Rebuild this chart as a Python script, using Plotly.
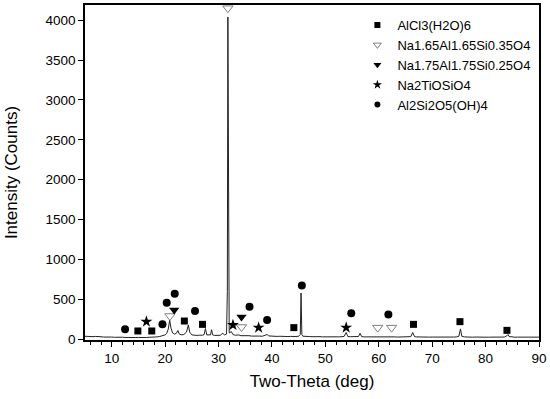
import plotly.graph_objects as go

# --- XRD pattern ---
two_theta = [5, 5.5, 6, 6.5, 7, 7.5, 8, 8.5, 9, 9.5, 10, 10.5, 11, 11.5, 12, 12.5, 13, 13.5, 14, 14.5,
             15, 15.5, 16, 16.5, 17, 17.5, 18, 18.5, 19, 19.5, 20, 20.3, 20.6, 20.85, 21.1, 21.4, 21.8,
             22.1, 22.4, 22.6, 23, 23.5, 24, 24.35, 24.6, 25, 25.5, 26, 26.5, 27, 27.3, 27.55, 27.8,
             28.2, 28.5, 28.7, 28.9, 29.3, 29.8, 30.3, 30.8, 31.1, 31.5, 31.65, 31.75, 31.85, 32.0,
             32.4, 32.7, 33.2, 33.7, 34.2, 34.7, 35.2, 35.7, 36.2, 36.7, 37.2, 37.7, 38.2, 38.7, 39.1,
             39.4, 40, 40.5, 41, 41.5, 42, 42.5, 43, 43.5, 44, 44.5, 45, 45.3, 45.45, 45.6, 45.8, 46.3,
             47, 47.5, 48, 48.5, 49, 49.5, 50, 50.5, 51, 51.5, 52, 52.5, 53, 53.5, 53.9, 54.2, 54.7,
             55.2, 55.7, 56.2, 56.5, 56.8, 57.3, 58, 58.5, 59, 59.5, 60, 60.5, 61, 61.5, 62, 62.5, 63,
             63.5, 64, 64.5, 65, 65.5, 66, 66.35, 66.7, 67, 67.5, 68, 68.5, 69, 69.5, 70, 70.5, 71,
             71.5, 72, 72.5, 73, 73.5, 74, 74.5, 75, 75.3, 75.55, 76, 76.5, 77, 77.5, 78, 78.5, 79,
             79.5, 80, 80.5, 81, 81.5, 82, 82.5, 83, 83.5, 84, 84.2, 84.4, 85, 85.5, 86, 86.5, 87,
             87.5, 88, 88.5, 89, 89.5, 90]
intensity = [38, 35, 40, 33, 36, 30, 32, 28, 30, 26, 28, 25, 27, 24, 26, 23, 25, 22, 24, 22,
             23, 21, 24, 22, 25, 24, 28, 30, 35, 42, 55, 75, 130, 240, 140, 80, 65,
             75, 110, 70, 55, 60, 90, 180, 90, 55, 50, 48, 52, 50, 60, 135, 55,
             50, 55, 120, 55, 48, 52, 50, 75, 55, 65, 600, 4040, 500, 80,
             95, 60, 50, 55, 45, 48, 42, 45, 40, 42, 38, 40, 38, 45, 60,
             42, 38, 40, 36, 38, 35, 37, 34, 36, 33, 35, 38, 60, 580, 60, 38, 33,
             35, 32, 34, 31, 33, 30, 32, 30, 31, 29, 31, 30, 32, 35, 85, 35, 32,
             30, 32, 35, 75, 33, 30, 31, 29, 30, 28, 30, 28, 30, 29, 31, 29, 30,
             28, 30, 28, 30, 29, 33, 85, 33, 30, 28, 29, 27, 29, 27, 28, 27, 29,
             27, 28, 26, 28, 27, 28, 29, 38, 130, 38, 30, 27, 28, 26, 28, 26, 27,
             26, 28, 26, 27, 26, 27, 26, 27, 28, 45, 60, 35, 27, 26, 27, 26, 27,
             26, 27, 26, 27, 26, 27]

# --- phase markers ---
alcl3_x = [14.9, 17.5, 23.6, 27.0, 44.1, 66.5, 75.2, 84.0]
alcl3_y = [104, 104, 229, 187, 146, 187, 221, 112]

na165_x = [20.9, 31.75, 34.3, 59.8, 62.4]
na165_y = [292, 4150, 154, 146, 146]

na175_x = [21.7, 34.3]
na175_y = [367, 279]

na2ti_x = [16.5, 32.7, 37.5, 53.9]
na2ti_y = [221, 179, 146, 146]

kaol_x = [12.5, 19.5, 20.3, 21.8, 25.6, 35.8, 39.1, 45.6, 54.85, 61.8]
kaol_y = [125, 187, 458, 571, 354, 408, 242, 675, 325, 312]

phase_names = ["AlCl3(H2O)6", "Na1.65Al1.65Si0.35O4", "Na1.75Al1.75Si0.25O4",
               "Na2TiOSiO4", "Al2Si2O5(OH)4"]

fig = go.Figure()
fig.add_trace(go.Scatter(x=two_theta, y=intensity, mode="lines",
                         line=dict(color="#222222", width=1), showlegend=False,
                         hoverinfo="skip"))

styles = [
    (alcl3_x, alcl3_y, "square", 7, "black", 0),
    (na165_x, na165_y, "triangle-down-open", 9, "#808080", 1),
    (na175_x, na175_y, "triangle-down", 9, "black", 0),
    (na2ti_x, na2ti_y, "star", 9, "black", 0),
    (kaol_x, kaol_y, "circle", 8, "black", 0),
]
legend_sizes = [6, 7, 7, 7, 6]
for (xs, ys, sym, sz, col, lw), name, lsz in zip(styles, phase_names, legend_sizes):
    fig.add_trace(go.Scatter(x=xs, y=ys, mode="markers", name=name, showlegend=False,
                             marker=dict(symbol=sym, size=sz, color=col,
                                         line=dict(width=lw, color=col))))
    fig.add_trace(go.Scatter(x=[None], y=[None], mode="markers", name=name, showlegend=True,
                             marker=dict(symbol=sym, size=lsz, color=col,
                                         line=dict(width=lw, color=col))))

axis_font = dict(family="Liberation Sans, Arial", size=13.5, color="black")
title_font = dict(family="Liberation Sans, Arial", size=17, color="black")
fig.update_layout(
    width=550, height=399,
    margin=dict(l=85, r=11, t=5, b=59, autoexpand=False),
    plot_bgcolor="white", paper_bgcolor="white",
    showlegend=True,
    legend=dict(x=0.6, y=0.985, xanchor="left", yanchor="top",
                bgcolor="rgba(0,0,0,0)",
                font=dict(family="Liberation Sans, Arial", size=13, color="black"),
                itemwidth=30),
    xaxis=dict(range=[5, 90], tickmode="linear", tick0=10, dtick=10, automargin=False,
               ticks="outside", ticklen=5, tickwidth=1, tickcolor="black",
               minor=dict(ticks="outside", dtick=2, tick0=10, ticklen=3, tickcolor="black"),
               showline=True, linecolor="black", linewidth=1.5, mirror=True,
               showgrid=False, zeroline=False, tickfont=axis_font,
               title=dict(text="Two-Theta (deg)", font=title_font, standoff=10)),
    yaxis=dict(range=[-9, 4190], tickmode="linear", tick0=0, dtick=500, automargin=False,
               ticks="outside", ticklen=5, tickwidth=1, tickcolor="black",
               showline=True, linecolor="black", linewidth=1.5, mirror=True,
               showgrid=False, zeroline=False, tickfont=axis_font,
               title=dict(text="Intensity (Counts)", font=title_font, standoff=24)),
)

fig.write_html("out.html", config={"displayModeBar": False},
               post_script="document.body.style.margin='0';")
